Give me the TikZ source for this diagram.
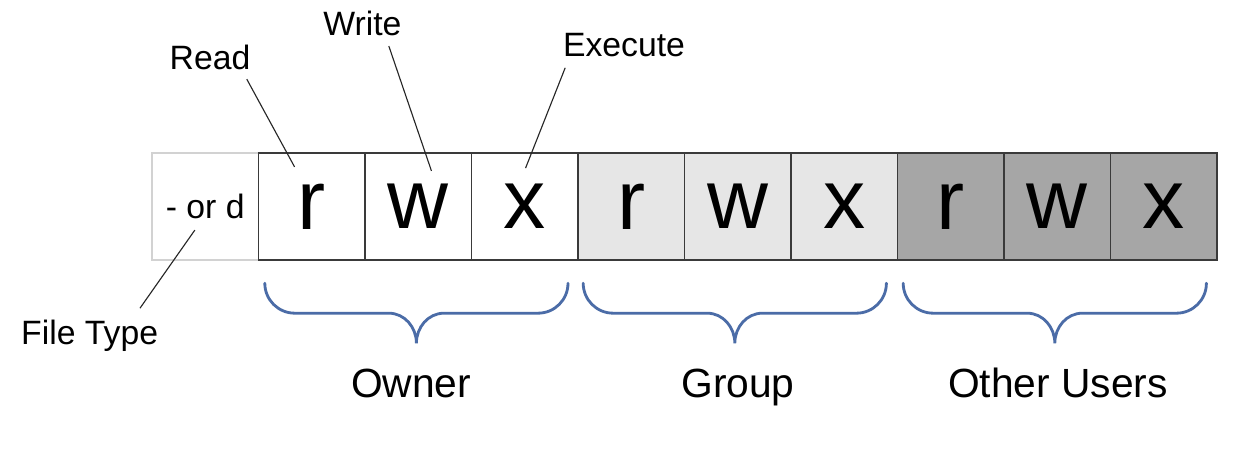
\documentclass[tikz,border=0pt]{standalone}
\usepackage{fontspec}
\setmainfont{Liberation Sans}
\definecolor{boxline}{HTML}{3A3A3A}
\definecolor{ftline}{HTML}{D2D2D2}
\definecolor{groupfill}{HTML}{E6E6E6}
\definecolor{otherfill}{HTML}{A6A6A6}
\definecolor{braceblue}{HTML}{4B6CA7}
\tikzset{
  cell/.style={draw=boxline, line width=0.9pt, fill=white, minimum width=2.6625cm,
    minimum height=2.675cm, inner sep=0pt, outer sep=0pt,
    font=\fontsize{60}{60}\selectfont},
  lbl/.style={anchor=base, font=\fontsize{24}{24}\selectfont},
  who/.style={anchor=base, font=\fontsize{29}{29}\selectfont},
  pointer/.style={line width=0.8pt, black!85},
  brace/.style={line width=2pt, braceblue, line cap=round},
}
\begin{document}
\begin{tikzpicture}
  %\draw[help lines] (0,0) grid (31,11);
  \fill[white] (0,0) rectangle (31.5,11.3);
  \useasboundingbox (0,0) rectangle (31.5,11.3);
  % type cell, then owner / group / other users
  \node[cell, draw=ftline, font=\fontsize{24}{24}\selectfont] (ft) at (5.131, 6.1375) {- or d};
  \node[cell] (o1) at (7.794, 6.1375) {r};
  \node[cell] (o2) at (10.456, 6.1375) {w};
  \node[cell] (o3) at (13.119, 6.1375) {x};
  \node[cell, fill=groupfill] (g1) at (15.781, 6.1375) {r};
  \node[cell, fill=groupfill] (g2) at (18.444, 6.1375) {w};
  \node[cell, fill=groupfill] (g3) at (21.106, 6.1375) {x};
  \node[cell, fill=otherfill] (u1) at (23.769, 6.1375) {r};
  \node[cell, fill=otherfill] (u2) at (26.431, 6.1375) {w};
  \node[cell, fill=otherfill] (u3) at (29.094, 6.1375) {x};

  \node[lbl] (lread) at (5.25, 9.55) {Read};
  \node[lbl] (lwrite) at (9.06, 10.4) {Write};
  \node[lbl] (lexec) at (15.6, 9.875) {Execute};
  \node[lbl] (lftype) at (2.24, 2.675) {File Type};

  % line ends below the labels and inside the cells
  \coordinate (rfoot) at ([shift={(0.92,-0.23)}]lread.base);
  \coordinate (wfoot) at ([shift={(0.66,-0.25)}]lwrite.base);
  \coordinate (xfoot) at ([shift={(-1.47,-0.27)}]lexec.base);
  \coordinate (tfoot) at ([shift={(1.26,0.92)}]lftype.base);
  \coordinate (rtip) at ([shift={(-0.43,0.99)}]o1.center);
  \coordinate (wtip) at ([shift={(0.33,0.89)}]o2.center);
  \coordinate (xtip) at ([shift={(0.02,0.96)}]o3.center);
  \coordinate (ttip) at ([shift={(-0.26,-0.59)}]ft.center);
  \draw[pointer] (rfoot) -- (rtip);
  \draw[pointer] (wfoot) -- (wtip);
  \draw[pointer] (xfoot) -- (xtip);
  \draw[pointer] (tfoot) -- (ttip);

  % braces under the three triples
  \foreach \bx in {6.62, 14.58, 22.58}
    \draw[brace] (\bx,4.22) to[out=-90,in=180] ++(0.75,-0.75) -- ++(2.35,0)
      to[out=0,in=90] ++(0.69,-0.75) to[out=90,in=180] ++(0.69,0.75)
      -- ++(2.35,0) to[out=0,in=-90] ++(0.75,0.75);
  \node[who] (owner) at (10.28, 1.35) {Owner};
  \node[who] (group) at (18.45, 1.35) {Group};
  \node[who] (others) at (26.45, 1.35) {Other Users};
\end{tikzpicture}
\end{document}
